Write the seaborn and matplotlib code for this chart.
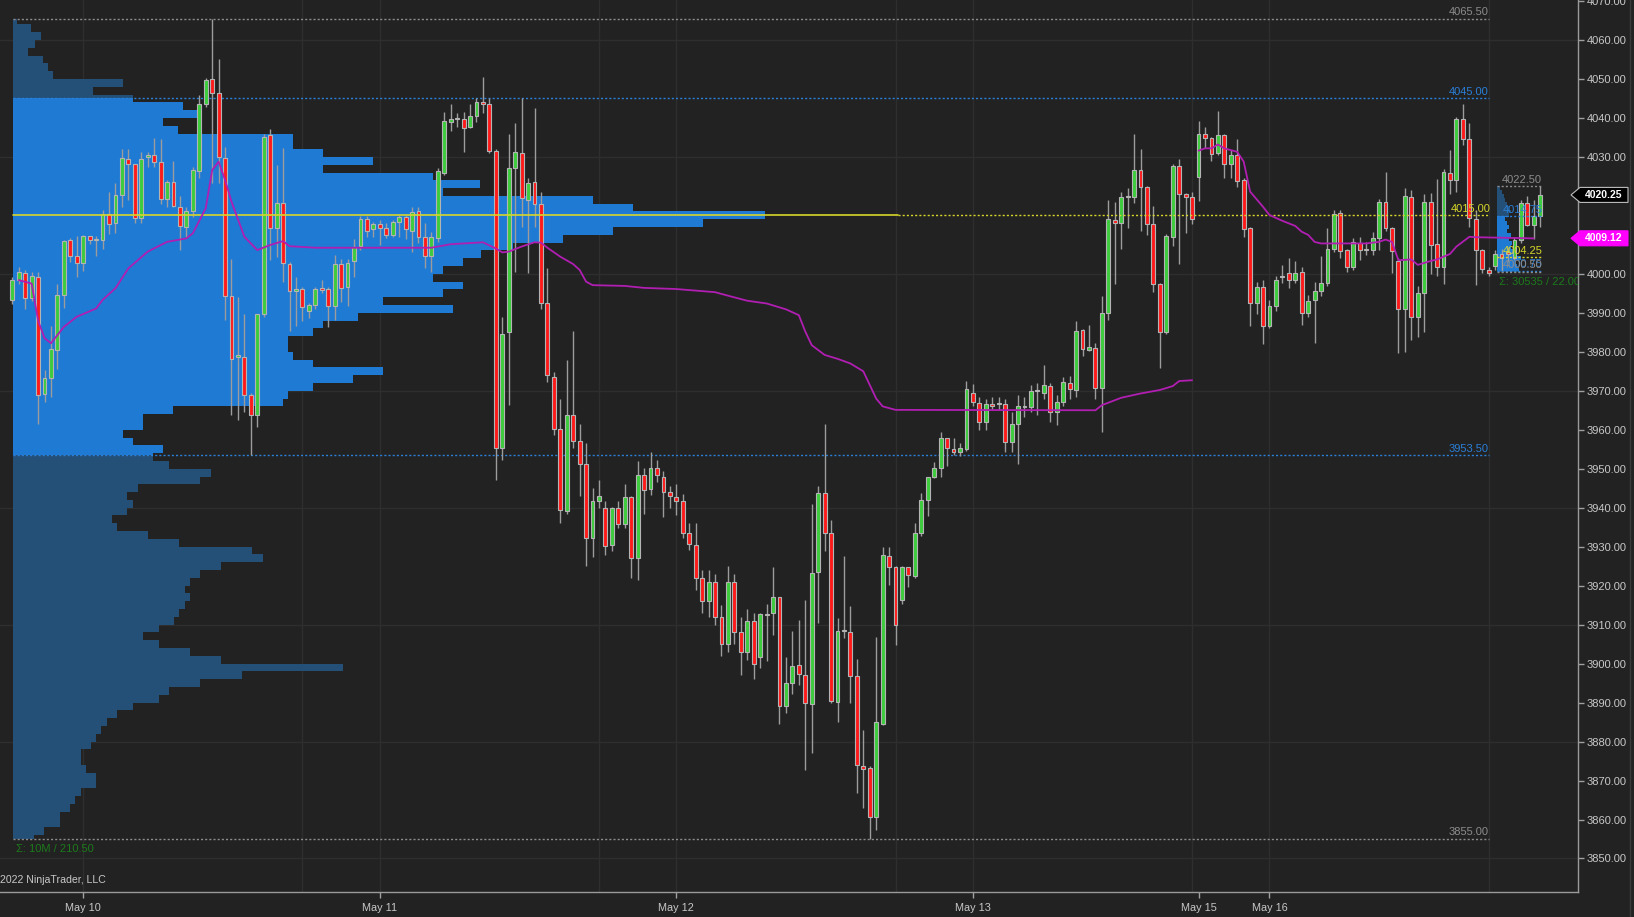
import numpy as np
import pandas as pd
import matplotlib.pyplot as plt
import seaborn as sns
from matplotlib.lines import Line2D
from matplotlib.patches import Polygon

# ── 30-minute bars, May 9 evening -> May 17 early session ────────────────────
opens = [
    3993.4, 3998.4, 4000.3, 3993.8, 3999.3, 3969.1, 3973.2, 3980.4, 3994.7, 4008.7,
    4004.6, 4002.7, 4009.7, 4008.6, 4008.7, 4015.3, 4013.0, 4020.2, 4029.4, 4028.1,
    4014.4, 4029.9, 4030.6, 4028.6, 4019.2, 4023.6, 4017.2, 4012.1, 4016.0, 4026.5,
    4043.6, 4050.0, 4046.3, 4029.8, 3994.4, 3978.6, 3978.7, 3968.9, 3963.9, 3989.6,
    4035.5, 4011.7, 4018.1, 4002.5, 3995.7, 3996.1, 3990.5, 3992.0, 3996.3, 3996.0,
    3991.8, 4002.4, 3996.5, 4003.4, 4007.1, 4014.0, 4011.4, 4012.7, 4011.7, 4010.0,
    4013.4, 4014.5, 4011.1, 4016.1, 4009.5, 4004.6, 4009.1, 4026.0, 4039.0, 4039.6,
    4039.6, 4037.8, 4040.6, 4044.1, 4043.7, 4031.5, 3955.4, 3985.2, 4027.1, 4031.1,
    4019.0, 4023.6, 4017.9, 3992.4, 3973.6, 3960.1, 3939.2, 3963.9, 3957.1, 3951.2,
    3932.1, 3941.7, 3939.8, 3930.4, 3940.0, 3935.9, 3942.8, 3927.0, 3948.4, 3944.9,
    3950.1, 3947.9, 3944.1, 3942.8, 3941.7, 3933.6, 3930.4, 3922.0, 3916.0, 3921.0,
    3912.0, 3905.0, 3921.0, 3908.0, 3903.0, 3911.0, 3901.6, 3912.6, 3912.9, 3917.0,
    3889.1, 3894.9, 3899.6, 3897.0, 3889.6, 3923.4, 3943.8, 3933.6, 3890.2, 3908.3,
    3908.2, 3896.8, 3873.8, 3873.1, 3860.7, 3884.6, 3927.6, 3924.8, 3916.3, 3924.7,
    3922.5, 3933.6, 3942.0, 3947.8, 3950.1, 3957.8, 3955.0, 3954.4, 3955.0, 3969.3,
    3966.8, 3962.1, 3966.6, 3966.6, 3966.6, 3956.8, 3961.6, 3965.9, 3965.9, 3970.0,
    3969.3, 3971.3, 3964.6, 3967.2, 3971.9, 3970.2, 3985.6, 3980.5, 3980.9, 3970.6,
    3989.9, 4013.8, 4013.1, 4019.8, 4019.8, 4026.6, 4022.2, 4012.9, 3997.5, 3985.2,
    4009.5, 4027.7, 4020.5, 4019.8, 4024.9, 4036.0, 4034.8, 4031.1, 4035.6, 4028.3,
    4030.5, 4024.1, 4011.7, 3992.4, 3996.5, 3986.7, 3991.8, 3999.1, 4000.1, 3998.4,
    4000.5, 3989.9, 3993.3, 3995.7, 3997.7, 4006.5, 4015.5, 4006.1, 4001.8, 4008.0,
    4006.1, 4006.1, 4009.1, 4018.5, 4011.8, 4003.3, 3991.1, 4019.8, 3989.0, 3995.2,
    4018.5, 4007.6, 4001.8, 4025.8, 4024.2, 4039.6, 4034.5, 4014.1, 4006.1, 4001.0,
    4002.0, 4005.2, 4005.7, 4004.0, 4008.8, 4018.1, 4012.5, 4014.9,
]
highs = [
    3999.3, 4001.8, 4001.0, 4000.5, 4000.5, 3975.3, 3986.6, 3997.5, 4008.8, 4009.3,
    4009.8, 4010.0, 4009.8, 4009.8, 4016.4, 4021.1, 4023.2, 4032.0, 4032.0, 4028.3,
    4031.3, 4031.3, 4034.8, 4034.6, 4024.0, 4029.0, 4020.0, 4017.2, 4027.3, 4045.9,
    4050.2, 4065.5, 4055.0, 4032.5, 4003.7, 3994.0, 3989.8, 3969.3, 3989.6, 4035.9,
    4037.2, 4027.9, 4032.2, 4003.0, 3999.1, 3996.7, 3992.6, 3996.7, 3998.4, 3996.7,
    4004.8, 4003.7, 4003.7, 4008.9, 4014.8, 4014.8, 4013.2, 4013.8, 4013.0, 4013.8,
    4015.1, 4015.1, 4017.2, 4017.2, 4013.1, 4010.8, 4027.1, 4041.6, 4043.7, 4041.3,
    4041.4, 4043.7, 4045.0, 4050.6, 4045.0, 4032.0, 3989.0, 4036.0, 4038.6, 4045.0,
    4024.5, 4042.5, 4021.1, 4001.4, 3974.9, 3968.0, 3978.0, 3985.3, 3961.6, 3956.5,
    3945.0, 3947.1, 3941.8, 3940.2, 3941.8, 3946.2, 3943.0, 3952.0, 3950.1, 3954.2,
    3952.2, 3949.4, 3945.5, 3946.2, 3943.4, 3936.0, 3936.0, 3924.0, 3924.0, 3923.0,
    3915.0, 3925.0, 3923.0, 3912.0, 3914.0, 3913.0, 3913.0, 3915.4, 3924.8, 3917.2,
    3901.6, 3908.4, 3911.2, 3916.3, 3940.9, 3945.5, 3961.6, 3936.8, 3911.6, 3927.6,
    3914.8, 3901.1, 3882.9, 3873.6, 3906.7, 3930.0, 3930.0, 3925.0, 3925.0, 3924.8,
    3936.0, 3943.8, 3948.0, 3951.8, 3959.3, 3958.0, 3958.0, 3956.5, 3972.5, 3971.8,
    3968.5, 3968.0, 3968.5, 3968.5, 3968.0, 3964.5, 3969.0, 3968.5, 3971.5, 3972.0,
    3976.6, 3972.0, 3968.9, 3973.6, 3973.8, 3987.9, 3985.8, 3986.8, 3982.2, 3994.4,
    4018.9, 4018.5, 4021.1, 4021.9, 4036.0, 4032.0, 4022.5, 4017.4, 3997.6, 4010.2,
    4028.2, 4029.4, 4020.8, 4020.9, 4039.3, 4037.8, 4035.0, 4041.9, 4036.0, 4031.8,
    4034.6, 4024.5, 4012.0, 3998.0, 3998.4, 3993.4, 3999.4, 4002.3, 4004.0, 4003.4,
    4001.8, 3994.6, 3997.8, 4004.6, 4011.7, 4016.4, 4016.5, 4006.5, 4009.3, 4009.5,
    4008.2, 4010.8, 4019.1, 4026.2, 4012.0, 4004.0, 4021.9, 4021.5, 3997.0, 4020.6,
    4020.8, 4024.3, 4026.8, 4031.8, 4040.3, 4043.6, 4038.6, 4016.4, 4006.5, 4001.8,
    4006.0, 4006.5, 4007.0, 4009.5, 4019.0, 4020.0, 4018.9, 4022.5,
]
lows = [
    3992.2, 3997.5, 3991.1, 3993.1, 3961.6, 3967.2, 3968.5, 3975.5, 3991.3, 4003.0,
    3999.3, 4000.7, 4007.6, 4004.6, 4006.3, 4010.2, 4010.4, 4017.2, 4019.0, 4013.0,
    4013.0, 4027.3, 4027.5, 4017.9, 4017.2, 4017.2, 4006.1, 4009.4, 4014.7, 4024.5,
    4042.9, 4023.4, 4023.4, 3988.1, 3963.8, 3962.5, 3964.6, 3953.5, 3960.8, 3989.0,
    4003.5, 4004.4, 3998.0, 3985.4, 3986.7, 3988.0, 3988.6, 3991.0, 3995.0, 3986.4,
    3988.1, 3992.7, 3991.8, 3999.3, 4006.0, 4009.5, 4009.5, 4007.4, 4009.3, 4009.5,
    4009.5, 4008.9, 4005.7, 4007.8, 4001.4, 4000.5, 4008.2, 4025.4, 4036.7, 4037.8,
    4031.3, 4037.3, 4039.0, 4041.3, 4031.1, 3947.1, 3952.2, 3966.3, 4000.5, 4012.1,
    4000.1, 4012.1, 3991.1, 3972.3, 3958.6, 3936.1, 3938.5, 3955.4, 3943.0, 3925.0,
    3927.4, 3939.8, 3927.8, 3929.0, 3934.7, 3934.7, 3922.0, 3921.5, 3938.5, 3943.2,
    3946.7, 3937.5, 3939.8, 3938.1, 3932.1, 3929.1, 3919.0, 3913.0, 3912.0, 3910.0,
    3902.0, 3903.0, 3905.0, 3897.0, 3901.0, 3896.0, 3898.8, 3900.7, 3907.3, 3884.6,
    3887.2, 3892.3, 3894.5, 3872.7, 3877.0, 3910.3, 3929.0, 3889.8, 3885.1, 3906.5,
    3890.0, 3866.7, 3862.9, 3855.0, 3857.3, 3884.2, 3920.1, 3904.9, 3915.4, 3919.7,
    3922.0, 3932.7, 3937.9, 3947.5, 3948.0, 3950.7, 3953.5, 3953.3, 3954.5, 3966.0,
    3959.9, 3960.0, 3965.0, 3965.0, 3954.4, 3954.4, 3951.1, 3963.3, 3964.5, 3963.8,
    3968.0, 3962.1, 3961.2, 3966.0, 3967.8, 3968.5, 3978.9, 3980.3, 3967.9, 3959.5,
    3988.1, 3997.4, 4006.5, 4011.8, 4018.3, 4011.0, 4010.0, 3995.4, 3975.9, 3984.5,
    4007.2, 4002.5, 4010.4, 4012.7, 4018.8, 4032.2, 4028.9, 4030.5, 4024.7, 4024.7,
    4022.2, 4009.5, 3986.7, 3989.6, 3981.9, 3986.0, 3990.5, 3997.6, 3996.3, 3997.6,
    3986.9, 3989.0, 3982.2, 3994.3, 3997.0, 4005.5, 4004.0, 4000.5, 4001.0, 4003.5,
    4004.8, 4004.8, 4006.0, 4011.0, 4000.1, 3979.6, 3980.0, 3983.0, 3983.7, 3985.0,
    4000.0, 3999.4, 3997.3, 4020.4, 4021.0, 4033.0, 4012.0, 3997.1, 4000.3, 3999.4,
    4001.0, 4000.5, 4003.0, 4003.5, 4008.0, 4012.2, 4009.0, 4011.9,
]
closes = [
    3998.4, 4000.5, 3993.8, 3999.5, 3968.9, 3973.2, 3980.6, 3994.6, 4008.5, 4004.6,
    4002.7, 4009.8, 4008.8, 4008.7, 4015.3, 4012.8, 4020.2, 4029.8, 4028.2, 4014.4,
    4029.4, 4030.4, 4028.7, 4019.2, 4023.5, 4017.4, 4012.3, 4016.0, 4026.6, 4043.6,
    4049.7, 4046.3, 4029.9, 3994.4, 3978.1, 3979.3, 3968.9, 3963.9, 3989.6, 4035.2,
    4011.7, 4018.1, 4002.7, 3995.7, 3996.2, 3991.6, 3992.0, 3996.1, 3995.9, 3991.8,
    4002.4, 3996.3, 4002.9, 4007.0, 4014.0, 4011.1, 4012.7, 4011.7, 4010.0, 4013.4,
    4014.5, 4011.4, 4015.9, 4009.4, 4004.6, 4009.4, 4026.4, 4039.3, 4039.6, 4040.1,
    4037.3, 4040.5, 4044.0, 4043.6, 4031.5, 3955.4, 3984.5, 4027.1, 4031.3, 4019.4,
    4023.4, 4017.9, 3992.4, 3974.0, 3960.1, 3939.4, 3963.9, 3957.2, 3951.2, 3932.1,
    3941.7, 3943.1, 3930.2, 3940.0, 3935.8, 3942.8, 3927.0, 3948.4, 3944.5, 3950.1,
    3948.4, 3944.1, 3943.1, 3941.8, 3933.6, 3930.6, 3922.0, 3916.0, 3921.0, 3912.0,
    3905.0, 3921.0, 3908.0, 3903.0, 3911.0, 3900.0, 3912.6, 3912.4, 3917.0, 3889.1,
    3894.9, 3899.4, 3897.3, 3889.8, 3923.3, 3943.8, 3933.6, 3890.4, 3908.3, 3908.4,
    3896.8, 3874.0, 3872.9, 3860.7, 3885.1, 3927.8, 3924.8, 3909.9, 3924.7, 3922.7,
    3933.6, 3942.1, 3947.8, 3950.3, 3957.8, 3955.2, 3954.4, 3955.2, 3970.5, 3967.0,
    3962.1, 3966.6, 3966.2, 3966.7, 3956.8, 3961.6, 3966.1, 3966.0, 3970.0, 3970.1,
    3971.4, 3964.6, 3967.2, 3972.3, 3970.4, 3985.3, 3980.6, 3981.2, 3970.6, 3990.0,
    4014.0, 4013.1, 4019.8, 4019.9, 4026.6, 4022.2, 4012.9, 3997.3, 3985.2, 4009.7,
    4027.7, 4020.6, 4019.6, 4014.1, 4036.0, 4034.9, 4030.7, 4035.6, 4028.3, 4030.5,
    4023.8, 4011.4, 3992.4, 3996.5, 3986.7, 3991.8, 3998.4, 3999.5, 3998.4, 4000.3,
    3990.0, 3993.1, 3995.6, 3997.6, 4006.4, 4015.3, 4005.9, 4001.8, 4008.1, 4006.0,
    4006.2, 4009.1, 4018.5, 4011.8, 4005.9, 3991.1, 4020.0, 3989.0, 3995.0, 4018.5,
    4007.4, 4001.8, 4026.2, 4024.2, 4039.6, 4034.5, 4014.2, 4006.1, 4001.2, 4000.3,
    4005.2, 4004.0, 4005.1, 4008.7, 4018.1, 4012.5, 4014.9, 4020.2,
]

# ── VWAP (two sessions), read at bar indices ──────────────────────────────────
vwap1_bar = [1, 3, 4, 5, 6, 8, 10, 13, 14, 16, 18, 21, 24, 27, 28, 30, 31, 32, 33, 34,
             36, 38, 40, 42, 43, 47, 65, 68, 73, 75, 76, 77, 79, 81, 82, 83, 85, 87, 88, 89,
             90, 95, 98, 103, 109, 111, 114, 117, 120, 122, 123, 124, 126, 128, 130, 132,
             133, 134, 135, 137, 168, 169, 172, 175, 178, 180, 181, 183]
vwap1_val = [3998.4, 3997.5, 3988.0, 3983.5, 3982.2, 3986.4, 3989.0, 3991.1, 3993.3, 3996.3,
             4001.4, 4005.7, 4008.2, 4009.1, 4010.4, 4016.8, 4026.6, 4028.8, 4024.1, 4018.5,
             4009.5, 4006.1, 4007.4, 4008.4, 4007.1, 4006.7, 4006.7, 4007.6, 4008.1, 4006.5,
             4005.5, 4005.7, 4007.0, 4008.1, 4008.0, 4006.7, 4004.4, 4002.5, 4001.0, 3998.0,
             3997.1, 3996.9, 3996.4, 3996.1, 3995.3, 3994.4, 3993.1, 3992.4, 3990.9, 3989.4,
             3985.2, 3981.7, 3979.2, 3978.2, 3977.0, 3975.0, 3971.5, 3968.0, 3966.0, 3965.1,
             3965.0, 3966.3, 3968.2, 3969.3, 3970.2, 3971.2, 3972.5, 3972.7]
vwap2_bar = [184, 185, 186, 187, 188, 190, 191, 192, 194, 195, 197, 199, 200, 201, 202,
             203, 210, 212, 213, 214, 215, 217, 218, 220, 221, 223, 224, 226, 227, 236]
vwap2_val = [4031.6, 4032.2, 4032.2, 4033.2, 4032.2, 4031.3, 4028.8, 4021.1, 4017.2, 4015.1,
             4013.6, 4012.3, 4010.8, 4010.0, 4008.2, 4007.8, 4007.8, 4008.2, 4008.8, 4008.2,
             4003.5, 4003.7, 4002.3, 4003.3, 4003.7, 4005.1, 4007.0, 4009.5, 4009.4, 4009.1]

# ── Composite volume profile (bars 0-229), 2-point rows ──────────────────────
profile_levels = [
    3855, 3857, 3859, 3861, 3863, 3865, 3867, 3869, 3871, 3873, 3875, 3877, 3879, 3881,
    3883, 3885, 3887, 3889, 3891, 3893, 3895, 3897, 3899, 3901, 3903, 3905, 3907, 3909,
    3911, 3913, 3915, 3917, 3919, 3921, 3923, 3925, 3927, 3929, 3931, 3933, 3935, 3937,
    3939, 3941, 3943, 3945, 3947, 3949, 3951, 3953, 3955, 3957, 3959, 3961, 3963, 3965,
    3967, 3969, 3971, 3973, 3975, 3977, 3979, 3981, 3983, 3985, 3987, 3989, 3991, 3993,
    3995, 3997, 3999, 4001, 4003, 4005, 4007, 4009, 4011, 4013, 4015, 4017, 4019, 4021,
    4023, 4025, 4027, 4029, 4031, 4033, 4035, 4037, 4039, 4041, 4043, 4045, 4047, 4049,
    4051, 4053, 4055, 4057, 4059, 4061, 4063, 4065,
]
profile_vol = [
    21, 31, 47, 47, 57, 62, 68, 83, 83, 73, 68, 68, 78, 83,
    88, 94, 104, 120, 146, 156, 187, 229, 330, 208, 177, 146, 130, 146,
    161, 166, 172, 177, 172, 177, 187, 208, 250, 239, 166, 135, 104, 99,
    114, 120, 114, 125, 187, 198, 156, 140, 150, 120, 110, 130, 130, 160,
    270, 275, 300, 340, 370, 300, 280, 275, 275, 300, 310, 345, 440, 370,
    430, 450, 420, 430, 450, 468, 500, 550, 600, 690, 752, 620, 580, 430,
    467, 420, 310, 360, 310, 280, 280, 165, 150, 185, 170, 120, 80, 110,
    40, 35, 30, 15, 22, 28, 18, 4,
]
prof_high, prof_low, prof_poc, prof_vah, prof_val = 4065.50, 3855.00, 4015.00, 4045.00, 3953.50

# ── Current session profile (bars 230-237), 1-point rows ─────────────────────
small_levels = [4001, 4002, 4003, 4004, 4005, 4006, 4007, 4008, 4009, 4010, 4011,
                4012, 4013, 4014, 4015, 4016, 4017, 4018, 4019, 4020, 4021, 4022]
small_vol = [2200, 2000, 1800, 2400, 2000, 1600, 1400, 1500, 1200, 1400, 1000,
             1200, 1000, 800, 1200, 1400, 1200, 1000, 800, 700, 500, 300]
sm_high, sm_low, sm_poc, sm_vah, sm_val = 4022.50, 4000.50, 4004.25, 4014.75, 4000.75

last_price, vwap_last = 4020.25, 4009.12
date_bars = [11, 57, 103, 149, 184, 195]
date_labels = ["May 10", "May 11", "May 12", "May 13", "May 15", "May 16"]
session_bars = [11, 45, 57, 91, 103, 137, 149, 183, 195, 229]
price_ticks = [3850, 3860, 3870, 3880, 3890, 3900, 3910, 3920, 3930, 3940, 3950, 3960,
               3970, 3980, 3990, 4000, 4010, 4020, 4030, 4040, 4050, 4060, 4070]

# ── Style ────────────────────────────────────────────────────────────────────
BG = "#222222"
GRID = "#2e2e2e"
UP, DOWN = "#3ccc3c", "#ff1a1a"
VA_LIGHT, VA_DARK = "#1f7ad4", "#244f77"
POC_C, VA_C, HL_C = "#d6d62a", "#2a7fd8", "#8c8c8c"
VWAP_C = "#b01eb2"
TXT = "#c8c8c8"

sns.set_theme(style="dark", rc={"axes.facecolor": BG, "figure.facecolor": BG})
plt.rcParams["font.family"] = ["Liberation Sans", "DejaVu Sans"]

W, H = 1634, 917
fig = plt.figure(figsize=(W / 100, H / 100), dpi=100)
AX_L, AX_B, AX_W, AX_H = 0, 25, 1578, 892
ax = fig.add_axes([AX_L / W, AX_B / H, AX_W / W, AX_H / H])
ax.set_facecolor(BG)

PX, X0 = 6.447, 12.3            # pixels per bar, pixel of bar 0
YMIN, YMAX = 3841.4, 4070.26
ax.set_xlim(-X0 / PX, (AX_W - X0) / PX)
ax.set_ylim(YMIN, YMAX)
ax.grid(False)

for y in price_ticks[::3]:
    ax.axhline(y, color=GRID, lw=1, zorder=0)
for b in session_bars:
    ax.axvline(b, color=GRID, lw=1, zorder=0)


def draw_profile(levels, vols, step, left, max_w, low, high, val, vah):
    vmax = max(vols)
    ys, ws, hs, cs = [], [], [], []
    for c, v in zip(levels, vols):
        lo, hi = max(c - step / 2, low), min(c + step / 2, high)
        w = v / vmax * max_w
        for a, b, col in [(lo, min(hi, val), VA_DARK), (max(lo, val), min(hi, vah), VA_LIGHT),
                          (max(lo, vah), hi, VA_DARK)]:
            if b > a:
                ys.append(a); ws.append(w); hs.append(b - a); cs.append(col)
    ax.barh(ys, ws, height=hs, left=left, align="edge", color=cs, linewidth=0, zorder=1)


draw_profile(profile_levels, profile_vol, 2, 0.06, 752 / PX, prof_low, prof_high, prof_val, prof_vah)
draw_profile(small_levels, small_vol, 1, 230.3, 24 / PX, sm_low, sm_high, sm_val, sm_vah)

# ── Profile level lines + labels ─────────────────────────────────────────────
end1, end2 = 229.0, 237.3
for lvl, col in [(prof_high, HL_C), (prof_vah, VA_C), (prof_val, VA_C), (prof_low, HL_C)]:
    ax.plot([0.06, end1], [lvl, lvl], color=col, lw=1, ls=(0, (1.5, 1.5)), zorder=2)
    ax.text(end1, lvl + 0.4, f"{lvl:.2f}", color=col, fontsize=8, ha="right", va="bottom", zorder=6)
ax.plot([0.06, 137.4], [prof_poc, prof_poc], color=POC_C, lw=1.2, zorder=5)
ax.plot([137.4, end1], [prof_poc, prof_poc], color=POC_C, lw=1, ls=(0, (1.5, 1.5)), zorder=5)
ax.text(end1 + 0.3, prof_poc + 0.4, f"{prof_poc:.2f}", color=POC_C, fontsize=8, ha="right", va="bottom", zorder=6)

for lvl, col in [(sm_high, HL_C), (sm_vah, VA_C), (sm_poc, POC_C), (sm_val, VA_C), (sm_low, HL_C)]:
    ax.plot([230.3, end2], [lvl, lvl], color=col, lw=1, ls=(0, (1.5, 1.5)), zorder=6)
    ax.text(end2, lvl + 0.4, f"{lvl:.2f}", color=col, fontsize=8, ha="right", va="bottom", zorder=7)

ax.text(0.5, prof_low - 1.2, "Σ: 10M / 210.50", color="#1c7a1c", fontsize=8, ha="left", va="top", zorder=6)
ax.text(230.6, sm_low - 1.2, "Σ: 30535 / 22.00", color="#1c7a1c", fontsize=8, ha="left", va="top",
        zorder=6, clip_on=True)

# ── Candles ──────────────────────────────────────────────────────────────────
df = pd.DataFrame({"o": opens, "h": highs, "l": lows, "c": closes})
xs = np.arange(len(df))
up = df["c"] >= df["o"]
ax.vlines(xs, df["l"], df["h"], color="#9c9c9c", lw=1, zorder=3)
body_lo = np.minimum(df["o"], df["c"])
body_h = np.maximum((df["c"] - df["o"]).abs(), 0.25)
ax.bar(xs, body_h, bottom=body_lo, width=0.6, color=np.where(up, UP, DOWN),
       edgecolor="#b4b4b4", linewidth=0.8, zorder=4)

# ── VWAP ─────────────────────────────────────────────────────────────────────
for bx, vy in [(vwap1_bar, vwap1_val), (vwap2_bar, vwap2_val)]:
    sns.lineplot(x=bx, y=vy, ax=ax, color=VWAP_C, lw=1.3, sort=False, estimator=None, zorder=5)

# ── Axes ─────────────────────────────────────────────────────────────────────
ax.yaxis.tick_right()
ax.set_yticks(price_ticks)
# the 4010 / 4020 labels sit under the price tags
ax.set_yticklabels(["" if abs(t - last_price) < 5 or abs(t - vwap_last) < 5 else f"{t:.2f}"
                    for t in price_ticks])
ax.tick_params(axis="y", which="both", right=True, left=False, direction="out", length=4, width=1,
               color="#a0a0a0", labelcolor=TXT, labelsize=8, pad=2)
ax.set_xticks(date_bars)
ax.set_xticklabels(date_labels)
ax.tick_params(axis="x", bottom=True, direction="out", length=4, width=1,
               color="#a0a0a0", labelcolor=TXT, labelsize=7.8, pad=4)
ax.set_xlabel(""); ax.set_ylabel("")
for s in ["top", "left"]:
    ax.spines[s].set_visible(False)
for s in ["right", "bottom"]:
    ax.spines[s].set_visible(True)
    ax.spines[s].set_color("#9a9a9a")
    ax.spines[s].set_linewidth(1)

# price tags (pentagon markers on the price scale)
for val, fc, ec in [(last_price, "#000000", "#bdbdbd"), (vwap_last, "#ff00ff", "#ff00ff")]:
    yc = AX_B + (val - YMIN) / (YMAX - YMIN) * AX_H
    pts = [(1571, yc), (1580, yc + 7.5), (1628, yc + 7.5), (1628, yc - 7.5), (1580, yc - 7.5)]
    fig.add_artist(Polygon([(px / W, py / H) for px, py in pts], closed=True,
                           transform=fig.transFigure, fc=fc, ec=ec, lw=0.8, zorder=10))
    fig.text(1604 / W, yc / H, f"{val:.2f}", color="white", fontsize=7.5, fontweight="bold",
             ha="center", va="center", zorder=11)

fig.text(0.0, (917 - 880) / H, "2022 NinjaTrader, LLC", color=TXT, fontsize=7.6, ha="left", va="center")
fig.add_artist(Line2D([1629.5 / W] * 2, [0, 1], color="#3a3a3a", lw=1))

fig.savefig("out.png", dpi=100, facecolor=BG)
